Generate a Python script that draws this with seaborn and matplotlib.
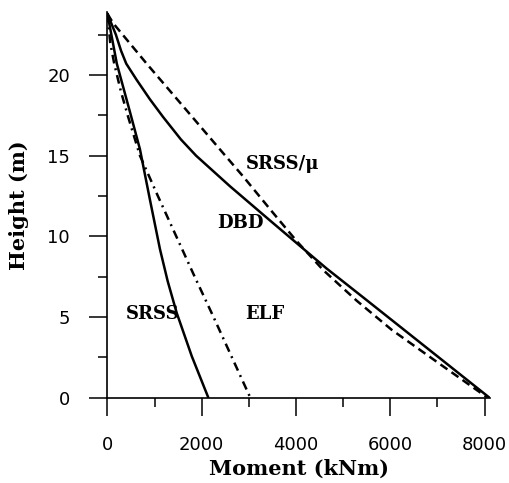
import numpy as np
import pandas as pd
import matplotlib
matplotlib.use("Agg")
import matplotlib.pyplot as plt
from matplotlib.ticker import MultipleLocator
import seaborn as sns

# Data (height m, moment kNm)
dbd_h = [23.8, 22.5, 21.5, 20.7, 19.7, 18.5, 17.4, 16.0, 15.0, 13.1, 11.0, 9.4, 8.0, 6.2, 4.4, 2.0, 0.0]
dbd_m = [0, 180, 290, 400, 620, 900, 1180, 1560, 1880, 2600, 3440, 4085, 4650, 5430, 6206, 7240, 8100]

srssmu_h = [23.8, 23.2, 20.7, 17.8, 15.0, 13.7, 11.5, 9.7, 7.9, 6.0, 4.2, 2.0, 0.0]
srssmu_m = [0, 125, 833, 1682, 2500, 2882, 3500, 4014, 4579, 5290, 6030, 7090, 8060]

srss_h = [23.8, 20.7, 17.8, 15.4, 12.3, 9.2, 7.2, 5.25, 2.56, 0.0]
srss_m = [0, 200, 470, 690, 900, 1115, 1280, 1470, 1790, 2140]

elf_h = [23.8, 22.0, 20.7, 19.0, 17.5, 15.0, 12.5, 10.0, 7.5, 5.0, 2.5, 0.0]
elf_m = [0, 60, 145, 285, 430, 690, 1070, 1460, 1850, 2250, 2640, 3030]

x_ticks = [0, 2000, 4000, 6000, 8000]
y_ticks = [0, 5, 10, 15, 20]

sns.set_style("ticks")
plt.rcParams['font.family'] = ['DejaVu Sans']
plt.rcParams['text.color'] = 'black'
plt.rcParams['axes.labelcolor'] = 'black'

fig = plt.figure(figsize=(5.09, 4.83), dpi=100)
ax = fig.add_axes([0.211, 0.177, 0.752, 0.798])

lw = 1.8
series = [
    (dbd_m, dbd_h, None, "DBD"),
    (srssmu_m, srssmu_h, (0, (3.4, 2.0)), "SRSS/mu"),
    (srss_m, srss_h, None, "SRSS"),
    (elf_m, elf_h, (0, (3.5, 2.0, 0.8, 2.0)), "ELF"),
]
for m, h, dash, name in series:
    df = pd.DataFrame({"Moment": m, "Height": h})
    sns.lineplot(data=df, x="Moment", y="Height", sort=False, estimator=None,
                 color="black", linewidth=lw, ax=ax)
    line = ax.get_lines()[-1]
    if dash is not None:
        line.set_linestyle(dash)

ax.set_xlim(0, 8120)
ax.set_ylim(0, 23.9)
ax.set_xticks(x_ticks)
ax.set_yticks(y_ticks)
ax.xaxis.set_minor_locator(MultipleLocator(1000))
ax.yaxis.set_minor_locator(MultipleLocator(2.5))
ax.tick_params(axis='both', which='major', direction='out', length=13, width=1.1,
               labelsize=13, colors='black')
ax.tick_params(axis='both', which='minor', direction='out', length=6.5, width=1.1,
               colors='black')
ax.tick_params(axis='x', which='major', pad=15)
ax.tick_params(axis='y', which='major', pad=14)
for s in ["left", "bottom"]:
    ax.spines[s].set_linewidth(1.2)
    ax.spines[s].set_color("black")
sns.despine(ax=ax)

serif = ['DejaVu Serif']
ax.set_xlabel("Moment (kNm)", fontsize=15, fontweight='bold', family=serif,
              labelpad=3, color='black')
ax.set_ylabel("Height (m)", fontsize=15, fontweight='bold', family=serif,
              labelpad=13, color='black')

lab_kw = dict(fontsize=13, fontweight='bold', family=serif, ha='center', va='center',
              color='black')
ax.text(3720, 14.45, "SRSS/\u03bc", **lab_kw)
ax.text(2830, 10.8, "DBD", **lab_kw)
ax.text(970, 5.2, "SRSS", **lab_kw)
ax.text(3340, 5.2, "ELF", **lab_kw)

fig.savefig("out.png", dpi=100)
